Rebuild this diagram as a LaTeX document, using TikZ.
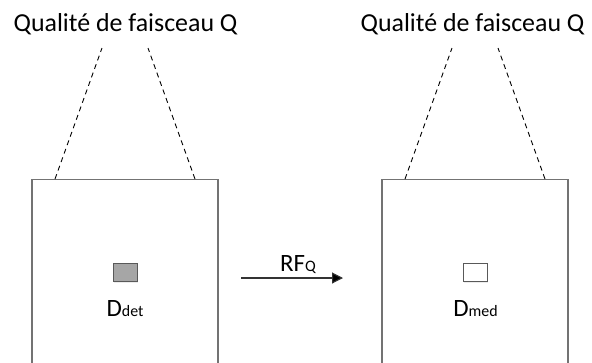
\documentclass[tikz,border=0pt]{standalone}
\usepackage{fontspec}
\setmainfont{Carlito}
\usetikzlibrary{arrows.meta,positioning,shadows}

\begin{document}
\begin{tikzpicture}[
    x=1bp, y=-1bp,
    frame/.style={rectangle, draw=black!55, line width=1.2bp, minimum width=186bp, minimum height=260bp, anchor=north},
    detector/.style={rectangle, draw=black!65, line width=1bp, minimum width=24bp, minimum height=18bp, drop shadow={opacity=0.15, shadow xshift=1bp, shadow yshift=-1.5bp}},
    heading/.style={font=\fontsize{26}{30}\selectfont, inner sep=0pt, anchor=base},
    tag/.style={font=\fontsize{25}{29}\selectfont, inner sep=0pt, anchor=base},
    beam/.style={draw, dash pattern=on 5bp off 4bp, line width=0.9bp},
    >={Triangle[length=11bp, width=11bp, fill=black]}
]
\useasboundingbox (0,0) rectangle (592,362);

% Boxes
\node[frame] (det box) at (125,179) {};
\node[frame] (med box) at (475,179) {};

% Beams
\coordinate (det beam l) at (102,48);
\coordinate (det beam r) at (148,48);
\coordinate (med beam l) at (452,48);
\coordinate (med beam r) at (498,48);
\path[beam] ([xshift=-70bp]det box.north) -- (det beam l);
\path[beam] ([xshift=70bp]det box.north) -- (det beam r);
\path[beam] ([xshift=-70bp]med box.north) -- (med beam l);
\path[beam] ([xshift=70bp]med box.north) -- (med beam r);

% Titles
\node[heading] (det title) at (125.5,31.7) {Qualité de faisceau Q};
\node[heading] (med title) at (472.5,31.7) {Qualité de faisceau Q};

% Detectors
\node[detector, fill=black!35] (det) at (125,272.5) {};
\node[detector, fill=white] (med) at (475,272.5) {};
\node[tag] (det label) at (125,316.5) {D{\fontsize{16}{16}\selectfont det}};
\node[tag] (med label) at (475.5,316.5) {D{\fontsize{16}{16}\selectfont med}};

% Correction
\coordinate (rf start) at (241,278);
\coordinate (rf end) at (343,278);
\draw[->, draw=black!80, line width=1.1bp] (rf start) -- (rf end);
\node[tag] (rf label) at (298,271.7) {RF{\fontsize{16}{16}\selectfont Q}};

\end{tikzpicture}
\end{document}
